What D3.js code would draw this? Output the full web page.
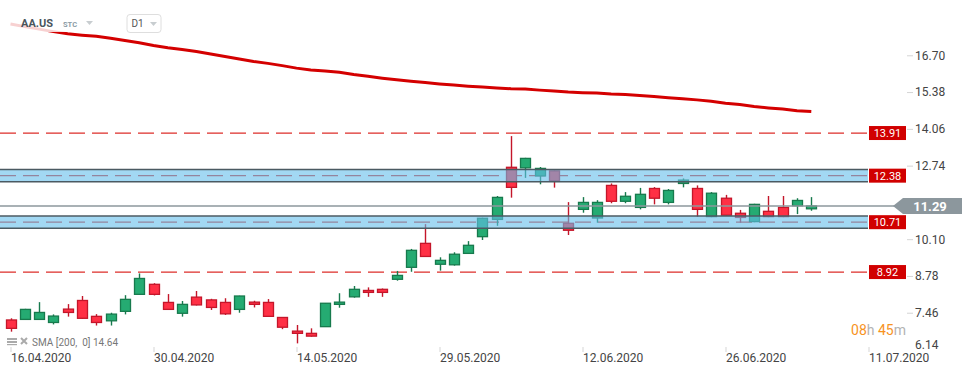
<!DOCTYPE html>
<html>
<head>
<meta charset="utf-8">
<script src="https://cdn.jsdelivr.net/npm/d3@7"></script>
<style>
    body { margin: 0; background: #fff; font-family: Roboto, "Noto Sans", sans-serif; }
</style>
</head>
<body>
<svg id="chart" width="974" height="375"></svg>
<script>
// AA.US D1 candles, 16.04.2020 .. 07.07.2020
let opens = [7.20, 7.22, 7.22, 7.11, 7.59, 7.90, 7.33, 7.17, 7.51, 8.12,
    8.48, 7.83, 7.44, 8.02, 7.92, 7.83, 7.58, 7.84, 7.83, 7.29,
    6.80, 6.72, 6.96, 7.76, 8.03, 8.26, 8.30, 8.66, 9.09, 9.95,
    9.20, 9.18, 9.59, 10.19, 10.81, 12.68, 12.66, 12.37, 12.55, 10.67,
    11.17, 10.86, 12.03, 11.46, 11.24, 11.92, 11.42, 12.10, 11.92, 10.91,
    11.57, 11.03, 10.73, 11.10, 11.24, 11.30, 11.19];
let highs = [7.26, 7.60, 7.84, 7.40, 7.77, 8.06, 7.41, 7.46, 8.09, 8.87,
    8.52, 8.13, 7.88, 8.24, 7.96, 7.98, 8.07, 7.89, 7.95, 7.30,
    7.02, 6.90, 7.80, 8.16, 8.42, 8.37, 8.33, 8.96, 9.75, 10.64,
    9.45, 9.63, 10.03, 10.87, 11.65, 13.80, 13.02, 12.69, 12.56, 11.43,
    11.61, 11.50, 12.10, 11.79, 11.94, 11.97, 11.90, 12.28, 12.03, 11.79,
    11.69, 11.15, 11.37, 11.65, 11.65, 11.57, 11.61];
let lows = [6.78, 7.20, 7.20, 7.04, 7.32, 7.24, 7.00, 7.00, 7.40, 8.10,
    8.08, 7.56, 7.32, 7.72, 7.56, 7.38, 7.46, 7.65, 7.32, 6.87,
    6.36, 6.60, 6.96, 7.64, 8.00, 8.03, 8.03, 8.61, 8.93, 9.46,
    8.97, 9.15, 9.57, 10.07, 10.58, 11.59, 12.30, 12.07, 11.95, 10.25,
    11.05, 10.69, 11.39, 11.39, 11.17, 11.35, 11.35, 11.96, 10.90, 10.89,
    10.94, 10.69, 10.71, 10.89, 10.89, 11.00, 11.12];
let closes = [6.90, 7.58, 7.47, 7.34, 7.47, 7.26, 7.11, 7.41, 7.94, 8.69,
    8.12, 7.58, 7.76, 7.74, 7.65, 7.42, 8.06, 7.76, 7.33, 6.94,
    6.72, 6.62, 7.80, 7.84, 8.30, 8.19, 8.19, 8.80, 9.70, 9.48,
    9.34, 9.56, 9.88, 10.85, 11.60, 11.96, 13.00, 12.64, 12.20, 10.42,
    11.42, 11.42, 11.46, 11.64, 11.71, 11.57, 11.85, 12.22, 11.17, 11.75,
    10.96, 10.88, 11.35, 10.91, 10.91, 11.49, 11.29];
// SMA 200
let sma = [17.82, 17.73, 17.64, 17.55, 17.47, 17.42, 17.38, 17.31, 17.23, 17.15,
    17.05, 16.97, 16.91, 16.84, 16.75, 16.66, 16.57, 16.48, 16.41, 16.33,
    16.24, 16.17, 16.14, 16.09, 16.01, 15.95, 15.88, 15.82, 15.77, 15.72,
    15.67, 15.63, 15.59, 15.56, 15.53, 15.50, 15.49, 15.45, 15.42, 15.38,
    15.36, 15.35, 15.31, 15.29, 15.26, 15.22, 15.18, 15.14, 15.10, 15.05,
    14.98, 14.93, 14.86, 14.81, 14.77, 14.71, 14.68];

let dateTicks = [0, 10, 20, 30, 40, 50, 60];
let dateLabels = ['16.04.2020', '30.04.2020', '14.05.2020', '29.05.2020', '12.06.2020', '26.06.2020', '11.07.2020'];
let priceTicks = [16.70, 15.38, 14.06, 12.74, 11.42, 10.10, 8.78, 7.46, 6.14];

let levels = [13.91, 12.38, 10.71, 8.92];
let zones = [12.38, 10.71];
let lastPrice = 11.29;
let smaLast = 14.64;

let svg = d3.select('#chart');

let x = d3.scaleLinear().domain([0, 60]).range([10.5, 868.5]);
let y = d3.scaleLinear().domain([6.14, 16.70]).range([349.5, 55.3]);

let candles = opens.map(function (o, i) {
    return {i: i, o: o, h: highs[i], l: lows[i], c: closes[i]};
});

//SMA line
let smaLine = d3.line()
    .x(function (d, i) { return x(i); })
    .y(function (d) { return y(d); });
svg.append('path')
    .attr('d', smaLine(sma))
    .attr('fill', 'none')
    .attr('stroke', '#d40000')
    .attr('stroke-width', 3);

//level lines (under the zones)
svg.selectAll('line.level')
    .data(levels)
    .enter().append('line')
    .attr('class', 'level')
    .attr('x1', 0).attr('x2', 868)
    .attr('y1', function (d) { return y(d); })
    .attr('y2', function (d) { return y(d); })
    .attr('stroke', '#dd2e2a')
    .attr('stroke-width', 1.3)
    .attr('stroke-dasharray', '16,7');

//candles
let g = svg.append('g');
g.selectAll('line.wick')
    .data(candles)
    .enter().append('line')
    .attr('x1', function (d) { return Math.round(x(d.i)) + 0.5; })
    .attr('x2', function (d) { return Math.round(x(d.i)) + 0.5; })
    .attr('y1', function (d) { return y(d.h); })
    .attr('y2', function (d) { return y(d.l); })
    .attr('stroke', function (d) { return d.c >= d.o ? '#177a4d' : '#c4162a'; })
    .attr('stroke-width', 1.4);
g.selectAll('rect.body')
    .data(candles)
    .enter().append('rect')
    .attr('x', function (d) { return Math.round(x(d.i)) - 4.5; })
    .attr('y', function (d) { return y(Math.max(d.o, d.c)); })
    .attr('width', 10)
    .attr('height', function (d) { return Math.max(1.5, Math.abs(y(d.o) - y(d.c))); })
    .attr('fill', function (d) { return d.c >= d.o ? '#25ab72' : '#ff3045'; })
    .attr('stroke', function (d) { return d.c >= d.o ? '#177a4d' : '#c4162a'; })
    .attr('stroke-width', 1.3);

//zones drawn over the candles
let zoneHalf = 0.22;
svg.selectAll('rect.zone')
    .data(zones)
    .enter().append('rect')
    .attr('x', 0)
    .attr('y', function (d) { return y(d + zoneHalf); })
    .attr('width', 868)
    .attr('height', function (d) { return y(d - zoneHalf) - y(d + zoneHalf); })
    .attr('fill', 'rgb(100,190,235)')
    .attr('fill-opacity', 0.6);
zones.forEach(function (d) {
    [d + zoneHalf, d - zoneHalf].forEach(function (v) {
        svg.append('line')
            .attr('x1', 0).attr('x2', 868)
            .attr('y1', y(v)).attr('y2', y(v))
            .attr('stroke', '#4b5a62')
            .attr('stroke-width', 1.5);
    });
});

//level labels
let lab = svg.selectAll('g.lab')
    .data(levels)
    .enter().append('g')
    .attr('transform', function (d) { return `translate(869, ${y(d)})`; });
lab.append('rect')
    .attr('x', 0).attr('y', -7)
    .attr('width', 37).attr('height', 14)
    .attr('fill', '#d10000');
lab.append('text')
    .attr('x', 18.5).attr('y', 4)
    .attr('text-anchor', 'middle')
    .attr('font-size', 11)
    .attr('fill', '#fff')
    .text(function (d) { return d.toFixed(2); });

//y axis
let axisY = d3.axisRight(y)
    .tickValues(priceTicks)
    .tickFormat(d3.format('.2f'))
    .tickSize(6)
    .tickPadding(2);
let gy = svg.append('g')
    .attr('transform', 'translate(907,0)')
    .call(axisY);
gy.select('.domain').remove();
gy.selectAll('line').attr('stroke', '#d5d5d5');
gy.selectAll('text')
    .attr('font-family', 'Roboto, sans-serif')
    .attr('font-size', 12)
    .attr('fill', '#444')
    .attr('dy', function (d) { return d === 6.14 ? '-0.1em' : '0.32em'; });
gy.selectAll('.tick').filter(function (d) { return d === 6.14; }).select('line').remove();

//x axis
let axisX = d3.axisBottom(x)
    .tickValues(dateTicks)
    .tickFormat(function (d, i) { return dateLabels[i]; })
    .tickSize(5);
let gx = svg.append('g')
    .attr('transform', 'translate(0,347)')
    .call(axisX);
gx.select('.domain').remove();
gx.selectAll('line').attr('stroke', '#d5d5d5');
gx.selectAll('text')
    .attr('font-family', 'Roboto, sans-serif')
    .attr('font-size', 12)
    .attr('fill', '#444')
    .attr('text-anchor', 'start')
    .attr('x', 0)
    .attr('y', 15)
    .attr('dy', 0);

//last price line + tag
let py = y(lastPrice);
svg.append('line')
    .attr('x1', 0).attr('x2', 895)
    .attr('y1', py).attr('y2', py)
    .attr('stroke', '#8c979d')
    .attr('stroke-width', 1.4);
svg.append('path')
    .attr('d', `M893,${py} L903,${py - 8} L962,${py - 8} L962,${py + 8} L903,${py + 8} Z`)
    .attr('fill', '#8c979d');
svg.append('text')
    .attr('x', 930).attr('y', py + 4.5)
    .attr('text-anchor', 'middle')
    .attr('font-size', 13)
    .attr('font-weight', 'bold')
    .attr('fill', '#fff')
    .text(lastPrice.toFixed(2));

//header
svg.append('rect')
    .attr('x', 0).attr('y', 8)
    .attr('width', 170).attr('height', 24)
    .attr('fill', '#fff')
    .attr('fill-opacity', 0.82);
svg.append('text')
    .attr('x', 21).attr('y', 27)
    .attr('font-size', 11).attr('font-weight', 'bold')
    .attr('fill', '#4a555c')
    .text('AA.US');
svg.append('text')
    .attr('x', 63).attr('y', 27)
    .attr('font-size', 7.5).attr('font-weight', 'bold')
    .attr('fill', '#8b9ba5')
    .text('STC');
svg.append('path').attr('d', 'M86,21 L93,21 L89.5,25 Z').attr('fill', '#c8cdd0');
svg.append('rect')
    .attr('x', 127).attr('y', 14.5)
    .attr('width', 34).attr('height', 18).attr('rx', 3)
    .attr('fill', '#fff').attr('stroke', '#dedede');
svg.append('text')
    .attr('x', 131.5).attr('y', 27)
    .attr('font-size', 10)
    .attr('fill', '#555')
    .text('D1');
svg.append('path').attr('d', 'M150,22 L157,22 L153.5,26 Z').attr('fill', '#c8cdd0');

//SMA legend
[338, 341, 344].forEach(function (yy, k) {
    svg.append('rect')
        .attr('x', 7).attr('y', yy)
        .attr('width', 10).attr('height', k === 2 ? 1.2 : 2)
        .attr('fill', '#aaa');
});
svg.append('path')
    .attr('d', 'M21,338 L27,344 M27,338 L21,344')
    .attr('stroke', '#aaa').attr('stroke-width', 2);
svg.append('text')
    .attr('x', 32).attr('y', 345.5)
    .attr('font-size', 10)
    .attr('fill', '#777')
    .attr('xml:space', 'preserve')
    .text(`SMA [200,  0] ${smaLast.toFixed(2)}`);

//countdown
let cd = svg.append('text')
    .attr('x', 906).attr('y', 335)
    .attr('text-anchor', 'end')
    .attr('font-size', 14);
cd.append('tspan').attr('fill', '#f7931e').text('08');
cd.append('tspan').attr('fill', '#b3b3b3').text('h ');
cd.append('tspan').attr('fill', '#f7931e').text('45');
cd.append('tspan').attr('fill', '#b3b3b3').text('m');
</script>
</body>
</html>
